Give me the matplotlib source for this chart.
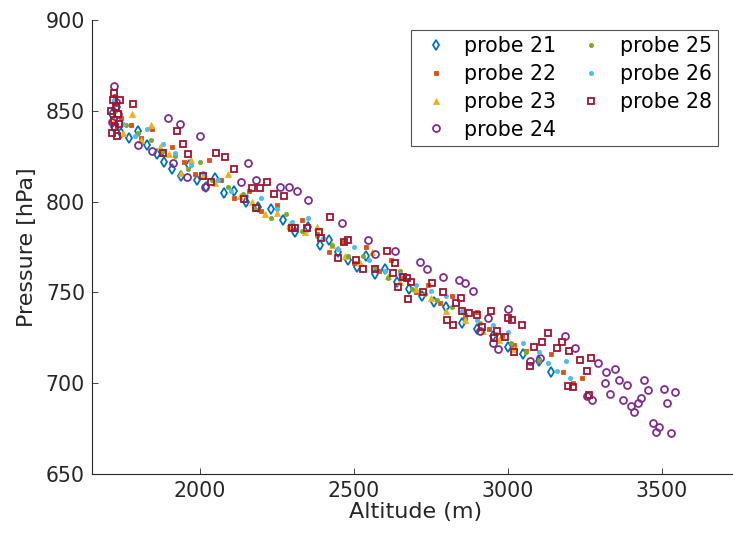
import matplotlib
matplotlib.use("Agg")
import matplotlib.pyplot as plt

labels = ["probe 21", "probe 22", "probe 23", "probe 24", "probe 25", "probe 26", "probe 28"]

p21_x = [1715,1722,1730,1745,1770,1800,1830,1860,1885,1910,1940,1965,1990,2020,2050,2080,2110,2150,2190,2230,2270,2310,2350,2390,2420,2450,2480,2510,2540,2570,2600,2640,2680,2720,2760,2800,2850,2900,2950,3000,3050,3100,3140]
p21_y = [848,841,852,838,835,839,831,826,822,818,814,820,812,808,813,805,806,800,797,796,790,783,786,776,779,772,768,764,770,760,763,756,752,748,745,742,733,730,726,720,716,712,706]

p22_x = [1725,1745,1775,1810,1845,1875,1910,1950,1985,2030,2070,2110,2160,2200,2250,2290,2330,2380,2420,2460,2500,2540,2580,2620,2660,2700,2740,2780,2820,2860,2900,2940,2980,3020,3060,3100,3140,3180,3210,3240]
p22_y = [858,846,842,835,840,826,830,822,815,823,812,802,806,795,798,786,790,782,772,778,766,775,762,768,758,750,754,744,748,736,739,730,726,721,718,712,716,706,700,703]

p23_x = [1720,1750,1780,1810,1840,1870,1900,1940,1970,2010,2050,2090,2130,2170,2210,2250,2290,2340,2380,2430,2470,2520,2560,2610,2650,2700,2750,2800,2860,2920,2970,3020]
p23_y = [845,838,848,834,842,830,826,816,823,814,810,815,803,800,793,794,787,783,786,776,770,766,772,759,756,752,747,740,735,729,724,719]

p24_x = [1714,1721,1728,1735,1799,1844,1896,1912,1935,1958,2000,2016,2133,2156,2182,2260,2289,2315,2351,2461,2546,2568,2633,2714,2737,2789,2841,2860,2886,2909,2935,2951,2968,3000,3071,3104,3185,3218,3257,3273,3292,3315,3318,3331,3347,3360,3373,3386,3399,3409,3422,3432,3442,3455,3471,3481,3490,3507,3516,3529,3542]
p24_y = [844,863.6,855,848,831,828,846,821,843,813.5,836,808,811,821,812,808,808,806,801,788,779,771,773,767,763,758.5,757,755,751,729,736,722,719,741,712,714,726,719.6,693,691,711,700,706,694,708,702,691,699,687.5,684,689,692,702,696,678,673,676,697,689,672.5,695]

p25_x = [1725,1760,1800,1840,1880,1920,1960,2000,2040,2090,2140,2180,2230,2280,2330,2380,2430,2480,2530,2570,2610,2650,2690,2730,2770,2820,2860,2910,2960,3010,3060,3100]
p25_y = [850,842,838,834,828,825,818,822,812,808,804,796,791,793,784,781,776,770,770,764,758,762,752,749,746,742,738,733,727,722,717,713]

p26_x = [1720,1750,1790,1830,1880,1920,1970,2010,2060,2100,2150,2200,2250,2300,2350,2400,2450,2500,2550,2600,2650,2700,2750,2800,2850,2900,2950,3000,3050,3100,3130,3160,3190,3200]
p26_y = [856,843,836,840,832,827,820,816,812,806,803,802,796,789,791,780,774,775,768,762,760,754,751,748,740,735,732,728,722,717,711,707,712,703]

p28_x = [1712,1715,1718,1720,1722,1725,1728,1730,1733,1738,1742,1782,1880,1925,1945,1960,2010,2036,2052,2081,2110,2143,2169,2182,2195,2218,2240,2273,2299,2308,2347,2386,2392,2422,2448,2468,2481,2507,2529,2568,2607,2627,2633,2643,2659,2672,2676,2685,2724,2753,2789,2802,2821,2831,2847,2851,2873,2899,2916,2945,2955,2965,2990,3000,3012,3019,3045,3071,3085,3110,3130,3159,3175,3195,3198,3211,3234,3257,3262,3268]
p28_y = [850,838,856,845,860,841,852,836,848,843,856,853.7,827,839,832,826,814,811,827,824.6,818,801.4,807.5,796.5,807.5,811,804,803,785.5,785.5,785.5,783,780,791.5,769,777.7,779,768,763,763,773,760.5,766,753,758.5,758,746.5,756,750,755,750,735,732,744,747,740,738.6,737.6,731,740,725,729,725.5,736,735,717,732,709.5,720,722.7,727.6,719.4,722.7,698.4,717.7,698,713,707,693.5,714]

xs = [p21_x, p22_x, p23_x, p24_x, p25_x, p26_x, p28_x]
ys = [p21_y, p22_y, p23_y, p24_y, p25_y, p26_y, p28_y]

colors = ["#0072BD", "#D95319", "#EDB120", "#7E2F8E", "#77AC30", "#4DBEEE", "#A2142F"]
markers = ["d", "s", "^", "o", "o", "o", "s"]
filled = [False, True, True, False, True, True, False]
sizes = [4.6, 2.6, 4.6, 5.0, 3.0, 3.0, 4.4]

plt.rcParams['font.family'] = ['DejaVu Sans']
fig = plt.figure(figsize=(7.33, 5.41), dpi=100)
ax = fig.add_axes([0.1255, 0.1238, 0.8827, 0.8392])

for x, y, c, m, f, s, lab in zip(xs, ys, colors, markers, filled, sizes, labels):
    ax.plot(x, y, linestyle="none", marker=m, markersize=s,
            markerfacecolor=c if f else "none", markeredgecolor=c,
            markeredgewidth=1.3 if not f else 0.6, label=lab)

ax.set_xlim(1650, 3750)
ax.set_ylim(650, 900)
ax.set_xticks([2000, 2500, 3000, 3500])
ax.set_yticks([650, 700, 750, 800, 850, 900])
for side in ["top", "right"]:
    ax.spines[side].set_visible(False)
for side in ["left", "bottom"]:
    ax.spines[side].set_color("#262626")
    ax.spines[side].set_linewidth(0.8)
ax.tick_params(direction="in", length=4, width=0.6, colors="#262626", labelsize=14.8, pad=5)
ax.set_xlabel("Altitude (m)", fontsize=16.0, color="#262626", labelpad=1)
ax.set_ylabel("Pressure [hPa]", fontsize=16.0, color="#262626", labelpad=6)

leg = ax.legend(ncol=2, loc="upper right", bbox_to_anchor=(0.968, 0.978), fontsize=14.8,
                frameon=True, fancybox=False, edgecolor="#262626", handlelength=1.8,
                handletextpad=0.5, columnspacing=0.8, labelspacing=0.38, borderpad=0.3,
                borderaxespad=0.0)
leg.get_frame().set_linewidth(0.8)

fig.savefig("out.png", dpi=100)
